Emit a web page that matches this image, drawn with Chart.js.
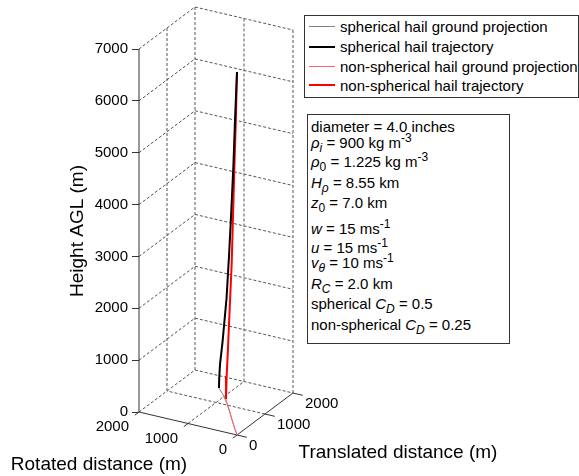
<!DOCTYPE html>
<html>
<head>
<meta charset="utf-8">
<script src="https://cdn.jsdelivr.net/npm/chart.js@4.4.1/dist/chart.umd.min.js"></script>
<style>
  body { margin: 0; background: #fff; }
  #wrap { position: relative; width: 579px; height: 476px; font-family: 'Liberation Sans', Arial, sans-serif; color: #000; }
  #legend, #params { position: absolute; background: #fff; border: 1px solid #333; box-sizing: border-box; }
  #legend { left: 304px; top: 15px; width: 275px; height: 83px; }
  #params { left: 307px; top: 114px; width: 203px; height: 230px; }
  .txt { position: absolute; white-space: nowrap; font-size: 15px; line-height: 15px; }
  .smp { position: absolute; left: 4px; width: 26px; }
  sub, sup { font-size: 12px; line-height: 0; }
  sub { vertical-align: -4px; }
  sup { vertical-align: 6px; }
</style>
</head>
<body>
<div id="wrap">
  <canvas id="hailChart" width="579" height="476"></canvas>
  <div id="legend"></div>
  <div id="params"></div>
</div>
<script>
// axis ticks (m)
const zTicks = [0, 1000, 2000, 3000, 4000, 5000, 6000, 7000];
const rotTicks = [0, 1000, 2000];
const transTicks = [0, 1000, 2000];

// spherical hail (C_D = 0.5)
const heightSph = [7000, 6000, 5000, 4000, 3000, 2000, 1000, 500, 200, 0];
const rotSph = [0, 145, 277, 447, 638, 844, 1079, 1200, 1240, 1254];
const transSph = [0, 185, 357, 580, 834, 1103, 1372, 1495, 1535, 1551];

// non-spherical hail (C_D = 0.25)
const heightNon = [7000, 6000, 5000, 4000, 3000, 2000, 1000, 500, 0];
const rotNon = [0, 95, 205, 315, 425, 600, 760, 845, 917];
const transNon = [0, 125, 265, 410, 555, 790, 1000, 1110, 1212];

const legendLabels = [
    'spherical hail ground projection',
    'spherical hail trajectory',
    'non-spherical hail ground projection',
    'non-spherical hail trajectory'
];

const paramLines = [
    'diameter = 4.0 inches',
    '<i>ρ</i><sub><i>i</i></sub> = 900 kg m<sup>-3</sup>',
    '<i>ρ</i><sub>0</sub> = 1.225 kg m<sup>-3</sup>',
    '<i>H</i><sub><i>ρ</i></sub> = 8.55 km',
    '<i>z</i><sub>0</sub> = 7.0 km',
    '<i>w</i> = 15 ms<sup>-1</sup>',
    '<i>u</i> = 15 ms<sup>-1</sup>',
    '<i>v</i><sub><i>θ</i></sub> = 10 ms<sup>-1</sup>',
    '<i>R</i><sub><i>C</i></sub> = 2.0 km',
    'spherical <i>C</i><sub><i>D</i></sub> = 0.5',
    'non-spherical <i>C</i><sub><i>D</i></sub> = 0.25'
];
const paramTops = [4.3, 19.6, 39, 59.6, 80, 105.6, 125, 139.6, 160.6, 181.3, 201.6];

// oblique 3-D view, pixels per metre
const view = { xr: 0.049, xt: 0.028, yr: 0.0115, yt: 0.021, zk: 0.051857 };
const area = { top: 20, bottom: 442, left: 139, right: 339, floorY: 412 };
const rMax = rotTicks[rotTicks.length - 1];
const tMax = transTicks[transTicks.length - 1];
const zMax = zTicks[zTicks.length - 1];

function project(r, t, z) {
    return {
        x: (rMax - r) * view.xr + t * view.xt,
        y: z + ((r - rMax) * view.yr + t * view.yt) / view.zk
    };
}

function line3d(pts, style) {
    return Object.assign({
        data: pts.map(p => project(p[0], p[1], p[2])),
        showLine: true,
        pointRadius: 0,
        borderWidth: 1,
        tension: 0,
        clip: false
    }, style);
}

const gridStyle = { borderColor: '#555', borderDash: [3, 2], order: 5 };
const axisStyle = { borderColor: '#333', order: 4 };

let datasets = [];

datasets.push(line3d(heightSph.map((z, i) => [rotSph[i], transSph[i], 0]),
    { label: legendLabels[0], borderColor: '#808080', order: 3, inLegend: true }));
datasets.push(line3d(heightSph.map((z, i) => [rotSph[i], transSph[i], z]),
    { label: legendLabels[1], borderColor: '#000000', borderWidth: 2, order: 0, inLegend: true }));
datasets.push(line3d(heightNon.map((z, i) => [rotNon[i], transNon[i], 0]),
    { label: legendLabels[2], borderColor: '#ff6464', order: 2, inLegend: true }));
datasets.push(line3d(heightNon.map((z, i) => [rotNon[i], transNon[i], z]),
    { label: legendLabels[3], borderColor: '#ff0000', borderWidth: 2, order: 1, inLegend: true }));

// back walls
zTicks.forEach(z => {
    datasets.push(line3d([[rMax, 0, z], [rMax, tMax, z], [0, tMax, z]], gridStyle));
});
transTicks.filter(t => t > 0).forEach(t => {
    datasets.push(line3d([[rMax, t, 0], [rMax, t, zMax]], gridStyle));
});
rotTicks.filter(r => r < rMax).forEach(r => {
    datasets.push(line3d([[r, tMax, 0], [r, tMax, zMax]], gridStyle));
});
// floor
rotTicks.filter(r => r > 0 && r < rMax).forEach(r => {
    datasets.push(line3d([[r, 0, 0], [r, tMax, 0]], gridStyle));
});
transTicks.filter(t => t > 0 && t < tMax).forEach(t => {
    datasets.push(line3d([[0, t, 0], [rMax, t, 0]], gridStyle));
});

// axes and their ticks
datasets.push(line3d([[rMax, 0, 0], [rMax, 0, zMax]], axisStyle));
datasets.push(line3d([[rMax, 0, 0], [0, 0, 0], [0, tMax, 0]], axisStyle));
rotTicks.forEach(r => datasets.push(line3d([[r, 0, 0], [r, -150, 0]], axisStyle)));
transTicks.forEach(t => datasets.push(line3d([[0, t, 0], [-200, t, 0]], axisStyle)));

const obliqueLabels = {
    id: 'obliqueLabels',
    afterDraw(chart) {
        const { ctx, scales } = chart;
        const at = (r, t, z) => {
            const p = project(r, t, z);
            return [scales.x.getPixelForValue(p.x), scales.y.getPixelForValue(p.y)];
        };
        ctx.save();
        ctx.fillStyle = '#000';
        ctx.textBaseline = 'middle';
        ctx.font = "15px 'Liberation Sans', Arial, sans-serif";
        ctx.textAlign = 'right';
        rotTicks.forEach(v => {
            const [px, py] = at(v, 0, 0);
            ctx.fillText(String(v), px - 10, py + 15);
        });
        ctx.textAlign = 'left';
        transTicks.forEach(v => {
            const [px, py] = at(0, v, 0);
            ctx.fillText(String(v), px + 12, py + 11);
        });
        ctx.font = "19px 'Liberation Sans', Arial, sans-serif";
        ctx.textAlign = 'center';
        let [px, py] = at(rMax / 2, 0, 0);
        ctx.fillText('Rotated distance (m)', px - 89, py + 41);
        [px, py] = at(0, tMax / 2, 0);
        ctx.fillText('Translated distance (m)', px + 133, py + 39);
        ctx.restore();
    }
};

Chart.defaults.font.family = "'Liberation Sans', Arial, sans-serif";
Chart.defaults.color = '#000';

const chart = new Chart(document.getElementById('hailChart'), {
    type: 'scatter',
    data: { datasets: datasets },
    options: {
        responsive: false,
        animation: false,
        devicePixelRatio: 1,
        layout: { padding: { top: area.top, bottom: 476 - area.bottom, left: 0, right: 579 - area.right } },
        plugins: { legend: { display: false }, tooltip: { enabled: false } },
        scales: {
            x: { type: 'linear', display: false, min: 0, max: area.right - area.left },
            y: {
                type: 'linear',
                min: -(area.bottom - area.floorY) / view.zk,
                max: (area.floorY - area.top) / view.zk,
                afterBuildTicks: s => { s.ticks = zTicks.map(v => ({ value: v })); },
                afterFit: s => { s.width = area.left; },
                border: { display: false },
                grid: { drawOnChartArea: false, drawTicks: true, tickLength: 7, color: '#333' },
                ticks: { color: '#000', font: { size: 15 }, padding: 4, callback: v => String(v) },
                title: { display: true, text: 'Height AGL (m)', color: '#000', font: { size: 19 }, padding: { top: 66, bottom: 0 } }
            }
        }
    },
    plugins: [obliqueLabels]
});

// legend box built from the datasets
const legendBox = document.getElementById('legend');
const rowTops = [3, 23, 43, 62.3];
const sampleMid = [10.7, 30.7, 50, 69];
chart.data.datasets.filter(d => d.inLegend).forEach((d, i) => {
    const s = document.createElement('div');
    s.className = 'smp';
    s.style.top = (sampleMid[i] - d.borderWidth / 2) + 'px';
    s.style.height = d.borderWidth + 'px';
    s.style.background = d.borderColor;
    legendBox.appendChild(s);
    const t = document.createElement('div');
    t.className = 'txt';
    t.style.left = '35px';
    t.style.top = rowTops[i] + 'px';
    t.textContent = d.label;
    legendBox.appendChild(t);
});

const paramBox = document.getElementById('params');
paramLines.forEach((html, i) => {
    const t = document.createElement('div');
    t.className = 'txt';
    t.style.left = '3px';
    t.style.top = paramTops[i] + 'px';
    t.innerHTML = html;
    paramBox.appendChild(t);
});
</script>
</body>
</html>
